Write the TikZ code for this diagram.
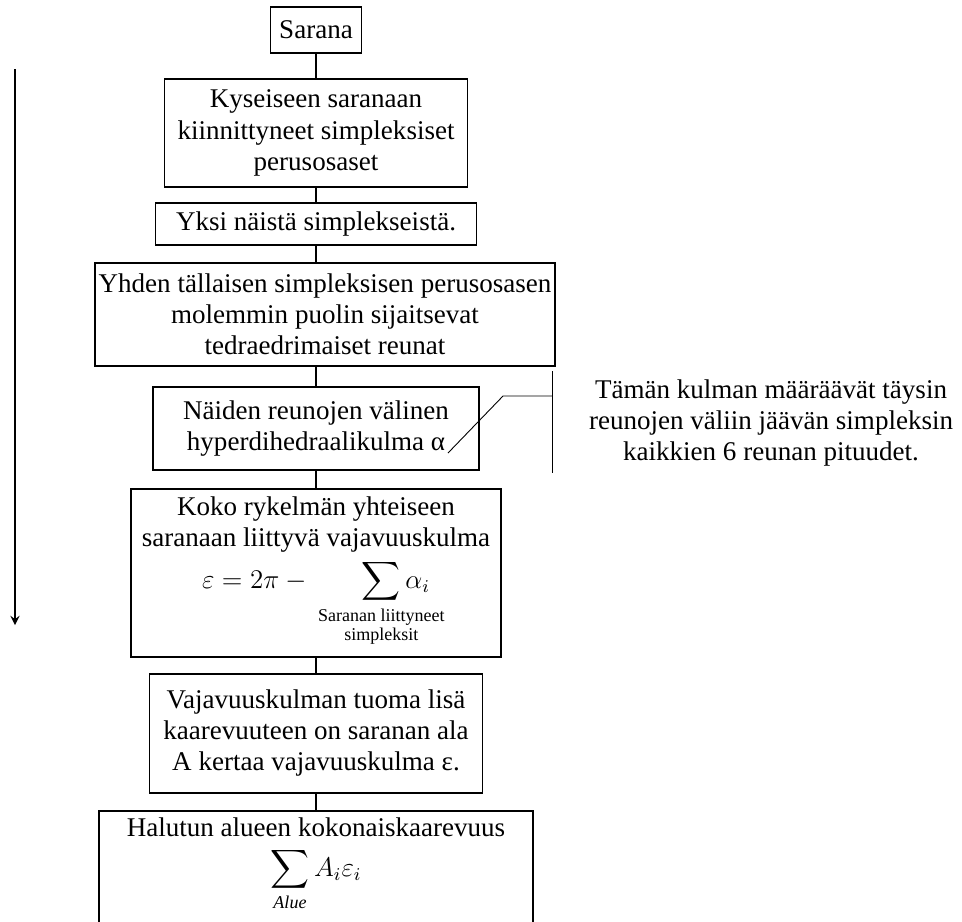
\documentclass[tikz,border=0pt]{standalone}
\usepackage{fontspec}
\setmainfont{Liberation Serif}
\usepackage{amsmath}
\usepackage{tikz}
\usetikzlibrary{arrows.meta, positioning}

\begin{document}
\begin{tikzpicture}[
    x=0.444pt, y=-0.444pt,
    node distance=7pt,
    stepbox/.style={
        rectangle, draw, thick,
        inner sep=3pt,
        align=center, font=\fontsize{12}{13.8}\selectfont
    },
    link/.style={thick},
    flowarrow/.style={-stealth, thick},
    note/.style={thin},
]
\useasboundingbox (0,0) rectangle (962,921);

% Main vertical flow
\node[stepbox, minimum width=40.4pt, minimum height=20.4pt] (sarana) at (316,30) {Sarana};
\node[stepbox, below=10.7pt of sarana, minimum width=134.5pt, minimum height=48pt] (kiinn) {Kyseiseen saranaan\\kiinnittyneet simpleksiset\\perusosaset};
\node[stepbox, below=6.3pt of kiinn, minimum width=142.5pt, minimum height=18.7pt] (yksi) {Yksi näistä simplekseistä.};
\node[stepbox, below=7.2pt of yksi, xshift=4pt, inner xsep=1.5pt, minimum width=200.7pt, minimum height=45.7pt] (reunat) {Yhden tällaisen simpleksisen perusosasen\\molemmin puolin sijaitsevat\\tedraedrimaiset reunat};
\node[stepbox, below=8.5pt of reunat, xshift=-4pt, minimum width=144.7pt, minimum height=36.9pt] (kulma) {Näiden reunojen välinen\\hyperdihedraalikulma α};
\node[stepbox, below=7.6pt of kulma, minimum width=164.3pt, minimum height=74.6pt] (vajaus) {Koko rykelmän yhteiseen\\saranaan liittyvä vajavuuskulma\\[2.5pt]
    $\displaystyle \varepsilon = 2\pi - \hspace{22pt}\sum\limits_{\makebox[0pt]{\fontsize{8}{8.6}\selectfont\begin{tabular}[t]{@{}c@{}}Saranan liittyneet\\simpleksit\end{tabular}}}\alpha_i$};
\node[stepbox, below=6.7pt of vajaus, minimum width=147.9pt, minimum height=52.8pt] (lisa) {Vajavuuskulman tuoma lisä\\kaarevuuteen on saranan ala\\A kertaa vajavuuskulma ε.};
\node[stepbox, below=7.2pt of lisa, minimum width=192.7pt] (kaarevuus) {Halutun alueen kokonaiskaarevuus\\[4pt]
    $\displaystyle \sum\limits_{\mathit{Alue}} A_i\varepsilon_i$\\\rule{0pt}{14pt}};

% Vertical links
\draw[link] (sarana) -- (kiinn);
\draw[link] (kiinn) -- (yksi);
\draw[link] (yksi.south) -- (yksi.south |- reunat.north);
\draw[link] (kulma.north |- reunat.south) -- (kulma.north);
\draw[link] (kulma) -- (vajaus);
\draw[link] (vajaus) -- (lisa);
\draw[link] (lisa) -- (kaarevuus);

% Direction arrow on the left
\coordinate (flowtop) at (15,69);
\coordinate (flowend) at (15,625);
\draw[flowarrow] (flowtop) -- (flowend);

% Note about the angle
\node[font=\fontsize{12}{13.8}\selectfont, align=center] (huom) at (771,423) {Tämän kulman määräävät täysin\\reunojen väliin jäävän simpleksin\\kaikkien 6 reunan pituudet.};
\coordinate (alphatip) at (448,453);
\coordinate (kink) at (503,396);
\coordinate (brmid) at (552,396);
\coordinate (brtop) at (552,371);
\coordinate (brbot) at (552,473);
\draw[note] (alphatip) -- (kink) -- (brmid);
\draw[note] (brtop) -- (brbot);

\end{tikzpicture}
\end{document}
